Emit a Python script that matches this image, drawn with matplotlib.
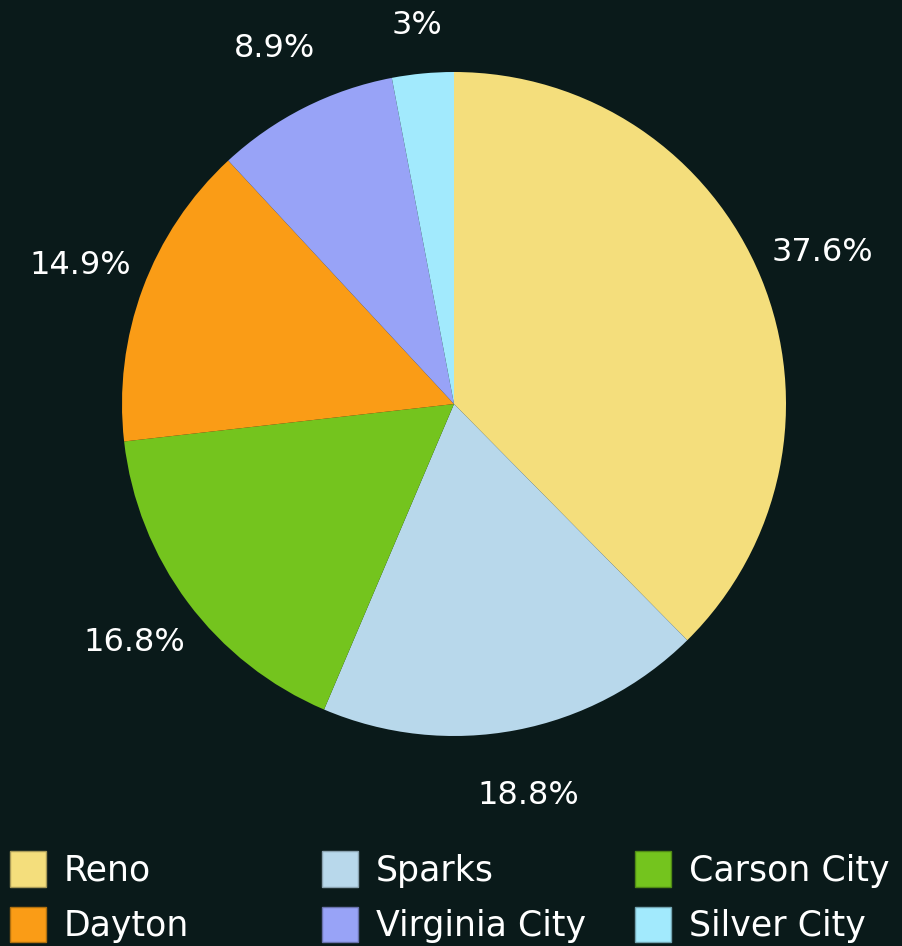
import matplotlib.pyplot as plt
from matplotlib.patches import Patch

cities = ['Reno', 'Sparks', 'Carson City', 'Dayton', 'Virginia City', 'Silver City']
shares = [37.6, 18.8, 16.8, 14.9, 8.9, 3.0]
colors = ['#f4de7c', '#b8d8eb', '#74c41e', '#fa9c16', '#98a3f7', '#a2eafd']
edge_colors = ['#a89a58', '#8aa2b0', '#508a15', '#b0700f', '#6a72ad', '#72a4b1']

plt.rcParams['font.family'] = ['DejaVu Sans']
bg = '#0a1a1a'

W, H = 903, 946
cx, cy, R = 454, 404, 332

fig = plt.figure(figsize=(W / 100, H / 100), dpi=100, facecolor=bg)
ax = fig.add_axes([0, 0, 1, 1])
ax.set_facecolor(bg)

wedges, texts, autotexts = ax.pie(
    shares, colors=colors, startangle=90, counterclock=False,
    autopct=lambda p: f'{p:.3g}%', pctdistance=1.2,
    wedgeprops=dict(linewidth=0),
    textprops=dict(color='white', fontsize=23))

ax.set_xlim(-cx / R, (W - cx) / R)
ax.set_ylim(-(H - cy) / R, cy / R)
ax.set_aspect('auto')
ax.axis('off')

# keep labels inside the canvas (top edge)
top = (cy - 26) / R
for t in autotexts:
    x, y = t.get_position()
    if y > top:
        t.set_position((x, top))

# legend: three fixed-width columns, two rows each
col_x = [10, 322, 635]
for c in range(3):
    idx = [c, c + 3]
    handles = [Patch(facecolor=colors[i], edgecolor=edge_colors[i], linewidth=1) for i in idx]
    fig.legend(handles, [cities[i] for i in idx], loc='upper left',
               bbox_to_anchor=(col_x[c] / W, 1 - 851 / H), frameon=False,
               fontsize=25, labelcolor='white', handlelength=1.05, handleheight=1.2,
               handletextpad=0.5, labelspacing=0.55, borderpad=0, borderaxespad=0)

fig.savefig('out.png', dpi=100, facecolor=bg)
